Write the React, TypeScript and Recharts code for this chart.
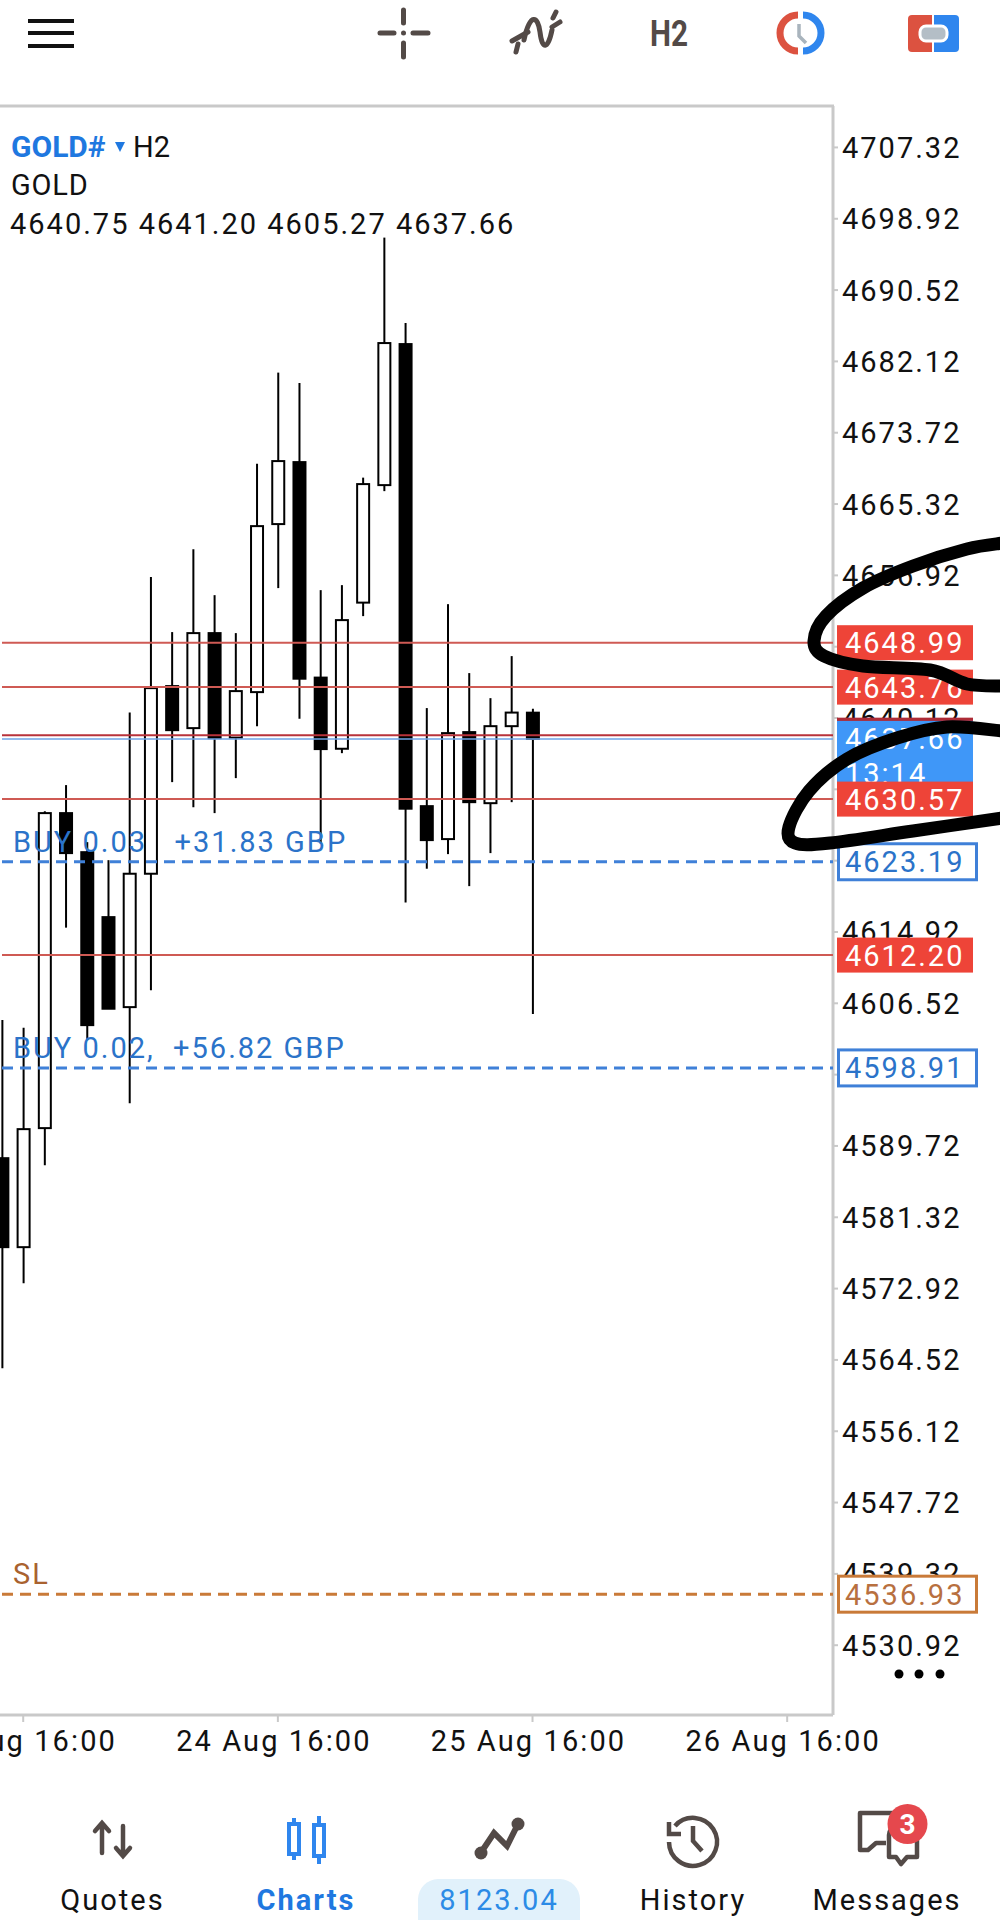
import { Bar, ComposedChart, ReferenceLine, XAxis, YAxis } from 'recharts';

const candleIndex = [0, 1, 2, 3, 4, 5, 6, 7, 8, 9, 10, 11, 12, 13, 14, 15, 16, 17, 18, 19, 20, 21, 22, 23, 24, 25];
const opens = [4588.28, 4577.8, 4591.82, 4628.92, 4624.32, 4616.67, 4606.07, 4621.78, 4643.88, 4638.93, 4650.12, 4637.81, 4643.17, 4662.96, 4670.26, 4644.88, 4636.5, 4653.71, 4667.55, 4684.16, 4629.74, 4625.86, 4638.46, 4630.09, 4639.16, 4640.75];
const highs = [4604.54, 4603.65, 4629.15, 4632.22, 4625.5, 4623.38, 4640.76, 4656.72, 4650.24, 4660.01, 4654.59, 4650.12, 4670.07, 4680.8, 4679.57, 4655.18, 4655.77, 4668.43, 4696.7, 4686.63, 4641.29, 4653.53, 4645.41, 4642.46, 4647.41, 4641.2];
const lows = [4563.55, 4573.56, 4587.46, 4615.43, 4602.18, 4605.88, 4594.76, 4608.07, 4632.57, 4629.62, 4628.92, 4633.04, 4639.16, 4655.42, 4640.04, 4625.31, 4635.98, 4652.12, 4666.84, 4618.38, 4622.37, 4624.09, 4620.32, 4624.21, 4630.21, 4605.27];
const closes = [4577.8, 4591.7, 4628.92, 4624.21, 4603.95, 4605.88, 4621.78, 4643.64, 4638.69, 4650.12, 4637.75, 4643.29, 4662.72, 4670.38, 4644.75, 4636.46, 4651.65, 4667.67, 4684.28, 4629.44, 4625.74, 4638.34, 4630.21, 4639.16, 4640.76, 4637.66];

const priceTicks = [4530.92, 4539.32, 4547.72, 4556.12, 4564.52, 4572.92, 4581.32, 4589.72, 4598.12, 4606.52, 4614.92, 4623.32, 4631.72, 4640.12, 4648.52, 4656.92, 4665.32, 4673.72, 4682.12, 4690.52, 4698.92, 4707.32];
// these sit fully behind a price tag in the app
const coveredTicks = [4598.12, 4623.32, 4631.72, 4648.52];
const timeTicks = [1, 13, 25, 37];
const timeLabels = ['23 Aug 16:00', '24 Aug 16:00', '25 Aug 16:00', '26 Aug 16:00'];

const alertLevels = [4648.99, 4643.76, 4612.2];
const PRICE_DOMAIN = [4522.7, 4712.2];

const data = candleIndex.map((i, n) => ({
  i,
  open: opens[n],
  high: highs[n],
  low: lows[n],
  close: closes[n],
  range: [lows[n], highs[n]],
}));

const FONT = 'Roboto, sans-serif';
const GRID = '#c9c9c9';
const RED = '#ee4438';
const RED_LINE = '#cf5a54';
const BLUE_LINE = '#3f80d8';
const BLUE_TEXT = '#2b73c9';
const SL_LINE = '#c97a38';
const ICON = '#534a47';
const numStyle = { fontFamily: FONT, fontSize: 29, letterSpacing: 2 };

function Candle(props: any) {
  const { x, y, width, height, payload } = props;
  const perUnit = height / (payload.high - payload.low);
  const cx = x + width / 2;
  const top = y + (payload.high - Math.max(payload.open, payload.close)) * perUnit;
  const bottom = y + (payload.high - Math.min(payload.open, payload.close)) * perUnit;
  const bull = payload.close > payload.open;
  return (
    <g>
      <line x1={cx} x2={cx} y1={y} y2={y + height} stroke="#000" strokeWidth={2} />
      <rect x={x} y={top} width={width} height={bottom - top} fill={bull ? '#fff' : '#000'} stroke="#000" strokeWidth={2} />
    </g>
  );
}

function PriceTick({ x, y, payload }: any) {
  if (coveredTicks.includes(payload.value)) return null;
  return (
    <text x={x + 2} y={y} dy={10.5} fill="#111" style={numStyle}>
      {payload.value.toFixed(2)}
    </text>
  );
}

function TimeTick({ x, y, payload }: any) {
  return (
    <text x={x - 4} y={y + 27} textAnchor="middle" fill="#111" style={{ fontFamily: FONT, fontSize: 29, letterSpacing: 2.1 }}>
      {timeLabels[timeTicks.indexOf(payload.value)]}
    </text>
  );
}

function FilledTag({ viewBox, text, fill = RED }: any) {
  return (
    <g>
      <rect x={837} y={viewBox.y - 17.5} width={136} height={35} fill={fill} />
      {text && <text x={845} y={viewBox.y + 10.5} fill="#fff" style={numStyle}>{text}</text>}
    </g>
  );
}

function CurrentTag({ viewBox, text, timer }: any) {
  return (
    <g>
      <rect x={837} y={viewBox.y - 18} width={136} height={62} fill="#3f97f8" />
      <text x={845} y={viewBox.y + 10.5} fill="#fff" style={numStyle}>{text}</text>
      <text x={845} y={viewBox.y + 45} fill="#fff" style={numStyle}>{timer}</text>
    </g>
  );
}

function OutlineTag({ viewBox, text, color, textColor }: any) {
  return (
    <g>
      <rect x={838.5} y={viewBox.y - 18} width={138} height={36} fill="#fff" stroke={color} strokeWidth={3} />
      <text x={845} y={viewBox.y + 10.5} fill={textColor} style={numStyle}>{text}</text>
    </g>
  );
}

function LineCaption({ viewBox, text, color }: any) {
  return (
    <text x={13} y={viewBox.y - 10} fill={color} xmlSpace="preserve" style={{ ...numStyle, whiteSpace: 'pre' }}>
      {text}
    </text>
  );
}

// Catmull-Rom through the points, for the hand drawn marks
function smooth(pts: number[][]) {
  let d = `M${pts[0][0]} ${pts[0][1]}`;
  for (let k = 0; k < pts.length - 1; k++) {
    const p0 = pts[k - 1] || pts[k];
    const p1 = pts[k];
    const p2 = pts[k + 1];
    const p3 = pts[k + 2] || p2;
    d += ` C${p1[0] + (p2[0] - p0[0]) / 6} ${p1[1] + (p2[1] - p0[1]) / 6} ${p2[0] - (p3[0] - p1[0]) / 6} ${p2[1] - (p3[1] - p1[1]) / 6} ${p2[0]} ${p2[1]}`;
  }
  return d;
}

const scribbleTop = [[1003, 543], [967, 549], [913, 566], [863, 588], [826, 616], [814, 641], [824, 656], [863, 666], [930, 670], [967, 684], [1003, 686]];
const scribbleBottom = [[1003, 731], [947, 727], [897, 738], [847, 759], [809, 791], [789, 827], [795, 843], [830, 843], [913, 831], [1003, 818]];

function Overlay() {
  const nav = { fontFamily: FONT, fontSize: 29, letterSpacing: 2, textAnchor: 'middle' as const };
  return (
    <svg width={1000} height={1920} style={{ position: 'absolute', left: 0, top: 0, pointerEvents: 'none' }}>
      <line x1={0} x2={834} y1={106} y2={106} stroke={GRID} strokeWidth={3} />

      {/* chart header */}
      <text x={11} y={157} fill="#1f78e0" style={{ fontFamily: FONT, fontSize: 30, fontWeight: 700 }}>GOLD#</text>
      <path d="M115 142 H125 L120 152 Z" fill="#1f78e0" />
      <text x={133} y={157} fill="#111" style={{ fontFamily: FONT, fontSize: 29 }}>H2</text>
      <text x={11} y={195} fill="#111" style={{ fontFamily: FONT, fontSize: 29, letterSpacing: 0.8 }}>GOLD</text>
      <text x={10} y={234} fill="#111" style={numStyle}>4640.75 4641.20 4605.27 4637.66</text>

      {/* top toolbar */}
      <g stroke="#111" strokeWidth={4}>
        <line x1={28} x2={74} y1={21} y2={21} />
        <line x1={28} x2={74} y1={33} y2={33} />
        <line x1={28} x2={74} y1={46} y2={46} />
      </g>
      <g stroke={ICON} strokeWidth={5} strokeLinecap="round" fill="none">
        <path d="M403.5 10 V23 M403.5 43 V57 M380 33 H394 M413 33 H428" />
        <path d="M512 41 L528 32 M552 27 L560 22 M516 52 L518 44 M553 18 L556 12" />
        <path d="M524 40 C530 12 538 16 540 32 C542 50 548 50 552 30" />
      </g>
      <circle cx={403.5} cy={33} r={2.5} fill={ICON} />
      <text x={650} y={46} textLength={38} lengthAdjust="spacingAndGlyphs" fill={ICON} style={{ fontFamily: FONT, fontSize: 37, fontWeight: 700 }}>H2</text>
      <path d="M798 15 A18 18 0 0 0 798 51" fill="none" stroke="#dc5240" strokeWidth={7} />
      <path d="M803 15 A18 18 0 0 1 803 51" fill="none" stroke="#2f86ee" strokeWidth={7} />
      <path d="M799 24 V36 L806 43" fill="none" stroke="#a9b4bd" strokeWidth={3.5} />
      <path d="M912 15 H932 V52 H912 Q908 52 908 48 V19 Q908 15 912 15 Z" fill="#dc5240" />
      <path d="M934 15 H955 Q959 15 959 19 V48 Q959 52 955 52 H934 Z" fill="#2f86ee" />
      <rect x={920} y={26} width={27} height={15} rx={6} fill="#b4bec6" stroke="#fff" strokeWidth={3} />

      {/* more dots */}
      <circle cx={899} cy={1674} r={4.5} fill="#000" />
      <circle cx={919} cy={1674} r={4.5} fill="#000" />
      <circle cx={940} cy={1674} r={4.5} fill="#000" />

      {/* hand drawn marks */}
      <path d={smooth(scribbleTop)} fill="none" stroke="#000" strokeWidth={13} strokeLinecap="round" />
      <path d={smooth(scribbleBottom)} fill="none" stroke="#000" strokeWidth={13} strokeLinecap="round" />

      {/* bottom navigation */}
      <g stroke={ICON} strokeWidth={4.5} fill="none" strokeLinecap="round">
        <path d="M102 1853 V1824 M95 1831 L102 1823 L109 1831" />
        <path d="M123 1826 V1855 M116 1848 L123 1856 L130 1848" />
      </g>
      <g stroke="#2f86ee" strokeWidth={4} fill="none">
        <path d="M294 1818 V1824 M294 1854 V1860 M319 1816 V1823 M319 1856 V1864" />
        <rect x={289} y={1824} width={10} height={30} />
        <rect x={314} y={1825} width={10} height={31} />
      </g>
      <path d="M480 1854 L494 1833 L507 1846 L518 1824" fill="none" stroke={ICON} strokeWidth={6} />
      <circle cx={481} cy={1853} r={6.5} fill={ICON} />
      <circle cx={518} cy={1824} r={6.5} fill={ICON} />
      <g stroke={ICON} strokeWidth={4.5} fill="none">
        <path d="M675 1826 A24 24 0 1 1 669 1842" />
        <path d="M669 1822 V1834 H681" />
        <path d="M693 1826 V1841 L702 1851" />
      </g>
      <g stroke={ICON} strokeWidth={4.5} fill="none" strokeLinejoin="round">
        <path d="M905 1813 H860 V1850 H868 L876 1843 H886" />
        <path d="M889 1835 Q889 1829 895 1829 H917 V1857 H907 L901 1864 L896 1857 H889 Z" />
      </g>
      <circle cx={907.5} cy={1824} r={20} fill="#e5484d" />
      <text x={907.5} y={1834} textAnchor="middle" fill="#fff" style={{ fontFamily: FONT, fontSize: 28, fontWeight: 700 }}>3</text>
      <text x={112.5} y={1910} fill="#111" style={nav}>Quotes</text>
      <text x={306} y={1910} fill="#1f78e0" style={{ ...nav, fontWeight: 700 }}>Charts</text>
      <path d="M438 1879 H560 A20.5 20.5 0 0 1 580 1899 V1920 H418 V1899 A20.5 20.5 0 0 1 438 1879 Z" fill="#e1f1fb" />
      <text x={499} y={1910} fill="#2c8be6" style={nav}>8123.04</text>
      <text x={693} y={1910} fill="#111" style={nav}>History</text>
      <text x={887} y={1910} fill="#111" style={nav}>Messages</text>
    </svg>
  );
}

export default function App() {
  return (
    <div style={{ position: 'absolute', left: 0, top: 0, width: 1000, height: 1920, background: '#fff', overflow: 'hidden' }}>
      <ComposedChart width={1000} height={1920} data={data} margin={{ top: 106, right: 0, bottom: 0, left: 0 }}>
        <XAxis
          dataKey="i"
          type="number"
          domain={[-0.094, 39.16]}
          ticks={timeTicks}
          interval={0}
          allowDataOverflow
          height={205}
          stroke={GRID}
          axisLine={{ stroke: GRID, strokeWidth: 3 }}
          tickLine={{ stroke: GRID, strokeWidth: 2 }}
          tickSize={7}
          tick={<TimeTick />}
        />
        <YAxis
          orientation="right"
          type="number"
          domain={PRICE_DOMAIN}
          ticks={priceTicks}
          interval={0}
          allowDataOverflow
          width={167}
          axisLine={{ stroke: GRID, strokeWidth: 3 }}
          tickLine={{ stroke: GRID, strokeWidth: 2 }}
          tickSize={5}
          tick={<PriceTick />}
        />
        <ReferenceLine y={4623.19} stroke="none" label={<LineCaption text="BUY 0.03   +31.83 GBP" color={BLUE_TEXT} />} />
        <ReferenceLine y={4598.91} stroke="none" label={<LineCaption text="BUY 0.02,  +56.82 GBP" color={BLUE_TEXT} />} />
        <ReferenceLine y={4536.93} stroke="none" label={<LineCaption text="SL" color="#a9622f" />} />
        <Bar dataKey="range" barSize={12} shape={<Candle />} isAnimationActive={false} />
      </ComposedChart>

      {/* second layer with the same price scale: level lines and tags go over the axis labels */}
      <div style={{ position: 'absolute', left: 0, top: 0 }}>
        <ComposedChart width={1000} height={1920} data={data} margin={{ top: 106, right: 167, bottom: 205, left: 2 }}>
          <XAxis dataKey="i" type="number" domain={[0, 39]} hide />
          <YAxis type="number" domain={PRICE_DOMAIN} allowDataOverflow hide />
          {alertLevels.map((level) => (
            <ReferenceLine key={level} y={level} stroke={RED_LINE} strokeWidth={2} label={<FilledTag text={level.toFixed(2)} />} />
          ))}
          <ReferenceLine y={4638.1} stroke="#b8323a" strokeWidth={2} label={<FilledTag fill="#ad2b36" />} />
          <ReferenceLine y={4637.66} stroke="#6fa3e6" strokeWidth={1.5} label={<CurrentTag text="4637.66" timer="13:14" />} />
          <ReferenceLine y={4630.57} stroke={RED_LINE} strokeWidth={2} label={<FilledTag text="4630.57" />} />
          <ReferenceLine y={4623.19} stroke={BLUE_LINE} strokeWidth={3} strokeDasharray="11 7" label={<OutlineTag text="4623.19" color={BLUE_LINE} textColor={BLUE_TEXT} />} />
          <ReferenceLine y={4598.91} stroke={BLUE_LINE} strokeWidth={3} strokeDasharray="11 7" label={<OutlineTag text="4598.91" color={BLUE_LINE} textColor={BLUE_TEXT} />} />
          <ReferenceLine y={4536.93} stroke={SL_LINE} strokeWidth={3} strokeDasharray="11 7" label={<OutlineTag text="4536.93" color={SL_LINE} textColor="#b8703f" />} />
        </ComposedChart>
      </div>
      <Overlay />
    </div>
  );
}
